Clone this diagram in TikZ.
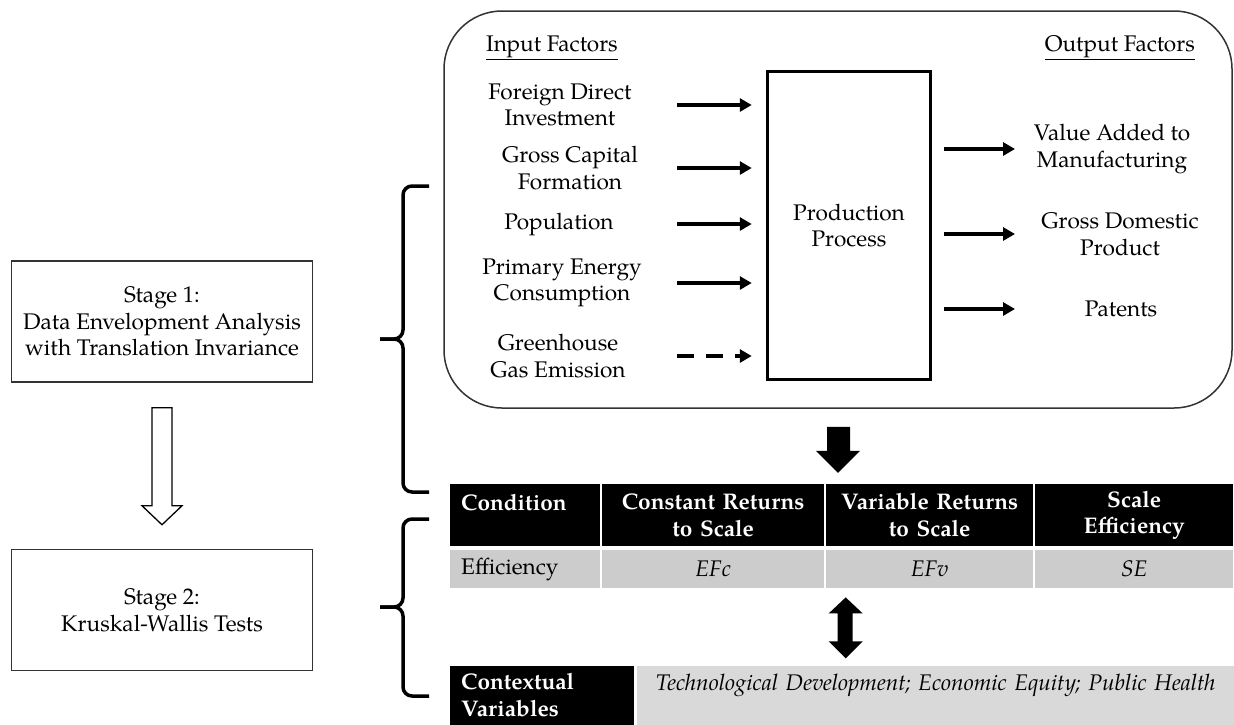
\documentclass[tikz,border=0pt]{standalone}
\usepackage{fontspec}
\setmainfont{TeX Gyre Pagella}
\usetikzlibrary{matrix,positioning,calc,arrows.meta}
\newcommand{\figfont}{\fontsize{22.6}{26.5}\selectfont}

\begin{document}
\begin{tikzpicture}[x=1pt,y=-1pt,
  every node/.style={font=\figfont,inner sep=0pt},
  lbl/.style={align=center},
  flow/.style={line width=4pt,-{Triangle[length=12pt,width=13pt]}},
  stagebox/.style={draw=black!80,line width=1.5pt,align=center,minimum width=301pt,minimum height=121pt},
  brc/.style={line width=3.5pt,rounded corners=9pt},
  hdr/.style={fill=black,text=white,font=\figfont\bfseries},
  effrow/.style={fill=gray!40},
  ctxrow/.style={fill=gray!30}]
\useasboundingbox (0,0) rectangle (1234,724);

% stages
\node[stagebox] (st1) at (162,321.5) {Stage 1:\\Data Envelopment Analysis\\with Translation Invariance};
\node[stagebox] (st2) at (162,610) {Stage 2:\\Kruskal-Wallis Tests};
\draw[line width=1.3pt] ($(st1.south)+(-10,25)$) -- ++(20,0) -- ++(0,98) -- ++(10,0)
  -- ($(st2.north)+(0,-24)$) -- ++(-20,-19) -- ++(10,0) -- cycle;

% braces
\foreach \yt/\ym/\yb in {186/339/492,519/607/696}{
  \draw[brc] (429,\yt) -- (403,\yt) -- (403,\ym) -- (380,\ym);
  \draw[brc] (429,\yb) -- (403,\yb) -- (403,\ym) -- (380,\ym);
}

% production model
\node[draw=black!80,line width=1.5pt,rounded corners=58pt,minimum width=788pt,minimum height=397pt] (dea) at (838,209.5) {};
\node[anchor=west] (inhd) at (486,48) {\underline{Input Factors}};
\node[anchor=east] (outhd) at (1195,48) {\underline{Output Factors}};
\node[draw,line width=3.5pt,minimum width=163pt,minimum height=308pt,align=center] (prod) at (849,225.5) {Production\\Process};

\node[lbl] (fdi) at (560,105) {Foreign Direct\\Investment};
\node[lbl] (gcf) at (570,168) {Gross Capital\\Formation};
\node[lbl] (pop) at (559,224) {Population};
\node[lbl] (pec) at (562,283) {Primary Energy\\Consumption};
\node[lbl] (ghg) at (558,356) {Greenhouse\\Gas Emission};

\node[lbl] (vam) at (1112,149) {Value Added to\\Manufacturing};
\node[lbl] (gdp) at (1120,234) {Gross Domestic\\Product};
\node[lbl] (pat) at (1121,309) {Patents};

\coordinate (ax) at (677,0);
\coordinate (bx) at (1015,0);
\foreach \n in {fdi,gcf,pop,pec}
  \draw[flow,shorten >=14pt] (\n.east -| ax) -- (\n.east -| prod.west);
\draw[flow,shorten >=14pt,dash pattern=on 17pt off 12pt] (ghg.east -| ax) -- (ghg.east -| prod.west);
\foreach \n in {vam,gdp,pat}
  \draw[flow,shorten <=12pt] (\n.west -| prod.east) -- (\n.west -| bx);

% results table
\matrix[matrix of nodes,anchor=north west,column sep=2pt,row sep=4pt,
  nodes={anchor=center,align=center},
  row 1/.style={nodes={hdr,minimum height=62pt}},
  row 2/.style={nodes={effrow,minimum height=38pt}},
  column 1/.style={nodes={text width=128pt,inner xsep=11pt,align=left}},
  column 2/.style={nodes={text width=222pt}},
  column 3/.style={nodes={text width=207pt}},
  column 4/.style={nodes={text width=198pt}}] (tab) at (450,484)
{
  {Condition\\~} & {Constant Returns\\to Scale} & {Variable Returns\\to Scale} & {Scale\\Efficiency} \\
  Efficiency & \textit{EFc} & \textit{EFv} & \textit{SE} \\
};

\node[hdr,align=left,text width=162pt,inner xsep=11pt,minimum height=59pt,below=77pt of tab.south west,anchor=north west] (ctx) {Contextual\\Variables};
\node[ctxrow,align=center,text width=598pt,minimum height=59pt,right=2pt of ctx] (ctxv) {\textit{Technological Development; Economic Equity; Public Health}\\~};

% block arrows
\fill ($(dea.south)+(-11,18)$) -- ++(23,0) -- ++(0,24) -- ++(10,0)
  -- ($(dea.south)+(0,64)$) -- ++(-22,-22) -- ++(11,0) -- cycle;
\fill ($(tab.south)+(4,9)$) -- ++(17,16) -- ++(-10,0) -- ++(0,28) -- ++(10,0)
  -- ++(-17,17) -- ++(-17,-17) -- ++(9,0) -- ++(0,-28) -- ++(-9,0) -- cycle;
\end{tikzpicture}
\end{document}
